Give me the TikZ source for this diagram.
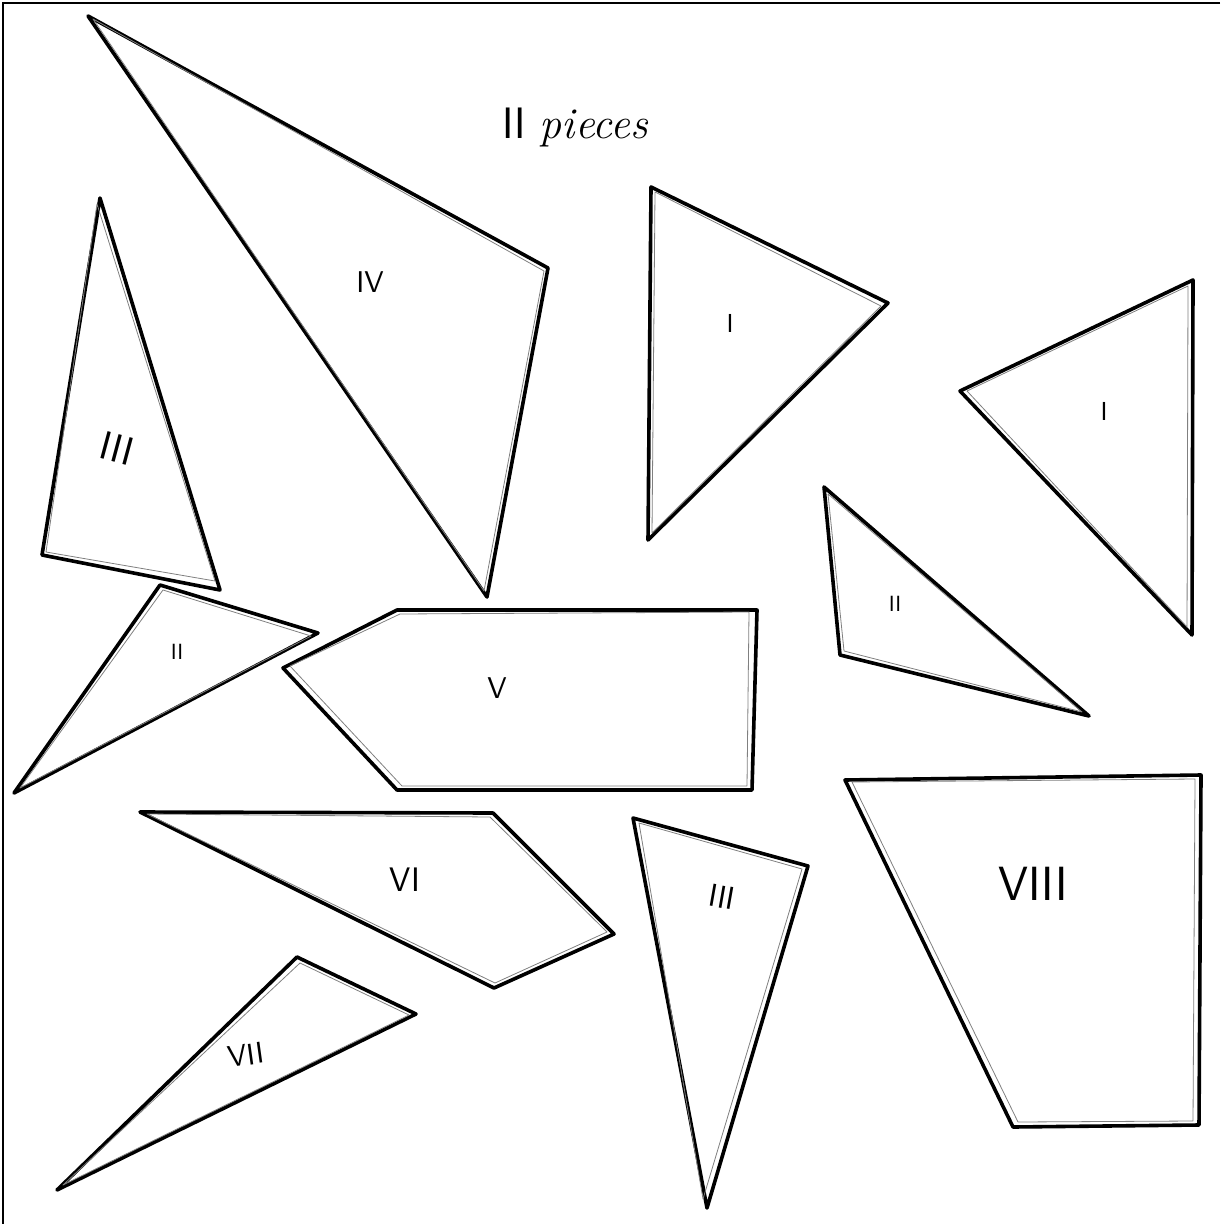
\documentclass[tikz,border=0pt]{standalone}
\usetikzlibrary{calc}
\begin{document}
\begin{tikzpicture}[x=0.5pt,y=-0.5pt,
  piece/.style={draw=black,line width=1.8pt,line join=round,line cap=round},
  ghost/.style={draw=black!50,line width=0.4pt,line join=round},
  lbl/.style={font=\sffamily,inner sep=0pt}]
\useasboundingbox (0,0) rectangle (1220,1224);
% frame (top and left only)
\draw[line width=0.8pt] (1220,3) -- (3,3) -- (3,1224);
% title
\node[inner sep=0pt] (title) at (575,128) {\fontsize{22}{24}\selectfont\sffamily II \itshape\rmfamily pieces};

% Piece IV
\draw[piece] (88,16) -- (548,268) -- (487,597) -- cycle;
\draw[ghost] (93,19) -- (544,271) -- (484,591) -- cycle;
\node[lbl] (lIV) at (370,282) {\fontsize{15}{16}\selectfont IV};

% Piece III (left)
\draw[piece] (100,198) -- (220,590) -- (42,555) -- cycle;
\draw[ghost] (97,204) -- (215,581) -- (46,552) -- cycle;
\node[lbl,rotate=-15] (lIIIa) at (117,448) {\fontsize{20}{20}\selectfont III};

% Piece II (left)
\draw[piece] (160,585) -- (318,633) -- (14,793) -- cycle;
\draw[ghost] (163,590) -- (311,636) -- (20,788) -- cycle;
\node[lbl] (lIIa) at (177,652) {\fontsize{11}{12}\selectfont II};

% Piece V
\draw[piece] (283,668) -- (397,610) -- (757,610) -- (752,790) -- (397,790) -- cycle;
\draw[ghost] (290,666) -- (400,614) -- (749,612) -- (747,786) -- (402,786) -- cycle;
\node[lbl] (lV) at (497,688) {\fontsize{15}{16}\selectfont V};

% Piece I (center)
\draw[piece] (651,187) -- (888,303) -- (648,540) -- cycle;
\draw[ghost] (655,192) -- (881,306) -- (652,533) -- cycle;
\node[lbl] (lIa) at (730,323) {\fontsize{13}{14}\selectfont I};

% Piece I (right)
\draw[piece] (960,391) -- (1193,280) -- (1192,635) -- cycle;
\draw[ghost] (967,391) -- (1188,286) -- (1187,627) -- cycle;
\node[lbl] (lIb) at (1104,411) {\fontsize{13}{14}\selectfont I};

% Piece II (right)
\draw[piece] (824,487) -- (1089,716) -- (840,655) -- cycle;
\draw[ghost] (828,494) -- (1082,712) -- (844,651) -- cycle;
\node[lbl] (lIIb) at (895,604) {\fontsize{11}{12}\selectfont II};

% Piece VIII
\draw[piece] (845,780) -- (1201,775) -- (1199,1125) -- (1013,1127) -- cycle;
\draw[ghost] (852,782) -- (1195,779) -- (1193,1121) -- (1018,1122) -- cycle;
\node[lbl] (lVIII) at (1033,884) {\fontsize{24}{24}\selectfont VIII};

% Piece III (bottom)
\draw[piece] (633,818) -- (808,866) -- (707,1208) -- cycle;
\draw[ghost] (639,823) -- (802,869) -- (703,1199) -- cycle;
\node[lbl,rotate=-10] (lIIIb) at (722,897) {\fontsize{16}{16}\selectfont III};

% Piece VI
\draw[piece] (140,812) -- (493,813) -- (614,934) -- (494,988) -- cycle;
\draw[ghost] (147,814) -- (490,817) -- (607,932) -- (495,983) -- cycle;
\node[lbl] (lVI) at (405,880) {\fontsize{17}{18}\selectfont VI};

% Piece VII
\draw[piece] (297,957) -- (416,1014) -- (57,1190) -- cycle;
\draw[ghost] (300,963) -- (409,1015) -- (63,1185) -- cycle;
\node[lbl,rotate=8] (lVII) at (246,1055) {\fontsize{15}{16}\selectfont VII};
\end{tikzpicture}
\end{document}
